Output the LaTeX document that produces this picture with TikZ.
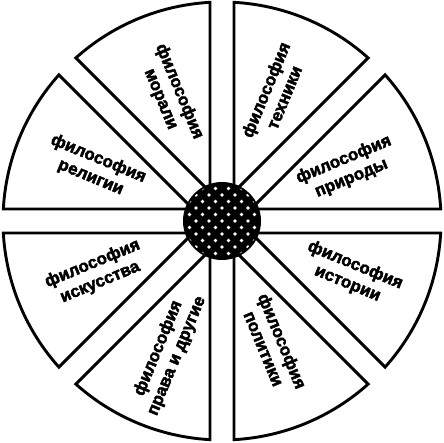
\documentclass[tikz,border=0pt]{standalone}
\usepackage{fontspec}
\setmainfont{Liberation Sans}
\newfontfamily\heavyfont{Liberation Sans}[BoldFeatures={FakeBold=2.6}]
\begin{document}
\begin{tikzpicture}[x=1pt,y=1pt,
  sectorshape/.style={draw=black, fill=white, line width=2.9pt, line join=miter},
  lbl/.style={font=\heavyfont\bfseries\fontsize{17}{20}\selectfont, align=center, inner sep=0pt},
  hubdot/.style={fill=white}]
\useasboundingbox (-222,-222) rectangle (222,221);
\def\R{219}
\def\hw{12}
\pgfmathsetmacro\del{asin(\hw/\R)}
\pgfmathsetmacro\din{\hw/sin(22.5)}
\foreach \k in {0,...,7}{
  \pgfmathsetmacro\a{\k*45+\del}
  \pgfmathsetmacro\b{(\k+1)*45-\del}
  \pgfmathsetmacro\m{\k*45+22.5}
  \draw[sectorshape] (\m:\din pt) -- (\a:\R pt) arc[start angle=\a, end angle=\b, radius=\R pt] -- cycle;
}
\node[circle, fill=black, minimum size=78pt, inner sep=0pt] (hub) at (0,0) {};
\begin{scope}
  \clip (0,0) circle (37pt);
  \foreach \j in {-7,...,7}{
    \foreach \i in {-4,...,4}{
      \pgfmathsetmacro\xx{\i*13+mod(\j+8,2)*6.5}
      \fill[hubdot] (\xx,\j*6.5) circle (1.9pt);
    }
  }
\end{scope}
\node[lbl, rotate=67.5]  (tech)  at (67.5:138pt)  {философия\\техники};
\node[lbl, rotate=22.5]  (nat)   at (22.5:136pt)  {философия\\природы};
\node[lbl, rotate=-22.5] (hist)  at (-22.5:140pt) {философия\\истории};
\node[lbl, rotate=-67.5] (pol)   at (-67.5:134pt) {философия\\политики};
\node[lbl, rotate=67.5]  (law)   at (-112.5:142pt) {философия\\права и другие};
\node[lbl, rotate=22.5]  (art)   at (-157.5:136pt) {философия\\искусства};
\node[lbl, rotate=-22.5] (rel)   at (157.5:138pt) {философия\\религии};
\node[lbl, rotate=-67.5] (moral) at (112.5:136pt) {философия\\морали};
\end{tikzpicture}
\end{document}
